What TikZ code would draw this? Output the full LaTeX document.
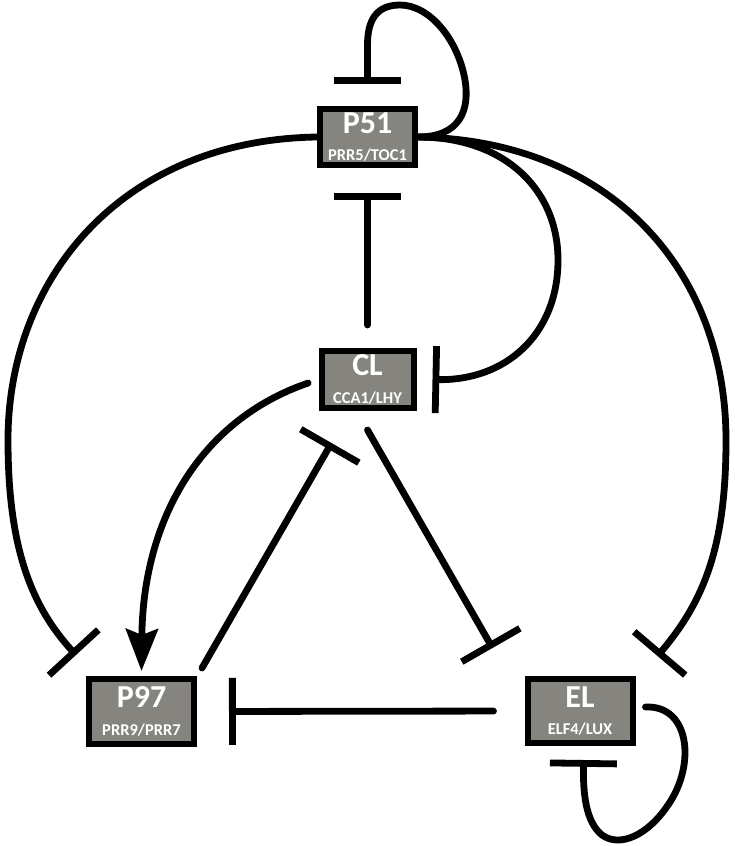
\documentclass[tikz,border=0pt]{standalone}
\usepackage{fontspec}
\setmainfont{Carlito}
\usetikzlibrary{positioning,arrows.meta}
\definecolor{boxgray}{RGB}{133,132,127}
\newcommand{\gene}[2]{{\fontsize{32}{32}\selectfont #1}\\[11pt]#2}

\begin{document}
\begin{tikzpicture}[x=1pt,y=-1pt,line width=6.8pt,line cap=round,on grid,
    gene/.style={draw,line width=6pt,line cap=butt,fill=boxgray,text=white,align=center,
      inner sep=0pt,font=\fontsize{16.5}{16.5}\selectfont\bfseries},
    inh/.style={-{Bar[width=67pt]}},
    act/.style={-{Stealth[length=42pt,width=32pt,inset=6pt]}}]
    \useasboundingbox (0,0) rectangle (734,846);

    \node[gene,minimum width=95pt,minimum height=56pt] (P51) at (367.5,137) {\gene{P51}{PRR5/TOC1}};
    \node[gene,minimum width=92pt,minimum height=57pt] (CL) [below=242.5pt of P51] {\gene{CL}{CCA1/LHY}};
    \node[gene,minimum width=105pt,minimum height=65pt] (P97) [below left=332pt and 226pt of CL] {\gene{P97}{PRR9/PRR7}};
    \node[gene,minimum width=105pt,minimum height=64pt] (EL) [below right=331.5pt and 212.5pt of CL] {\gene{EL}{ELF4/LUX}};

    % P51 on itself
    \draw[inh] (P51.east) .. controls (460,137) and (470,110) .. (465,80)
        .. controls (458,40) and (430,5) .. (400,5)
        .. controls (375,5) and (367.5,22) .. (367.5,45) -- ([yshift=22pt]P51.north);
    % CL -| P51
    \draw[inh,shorten <=23pt,shorten >=25pt] (CL.north) -- (P51.south);
    % P51 -| CL
    \draw[inh] (P51.east) .. controls (505,137) and (558,190) .. (558,260)
        .. controls (558,335) and (505,381) .. ([xshift=16pt]CL.east);
    % P51 -| EL
    \draw[inh] (P51.east) .. controls (610,140) and (726,270) .. (726,440)
        .. controls (726,545) and (705,600) .. ([shift={(22,-20)}]EL.north east);
    % P51 -| P97
    \draw[inh] (P51.west) .. controls (120,140) and (8,280) .. (8,440)
        .. controls (8,545) and (30,605) .. ([shift={(-10,-21)}]P97.north west);
    % CL -> P97
    \draw[act,shorten <=11pt] (CL.west) .. controls (200,420) and (143,520) .. ([yshift=5pt]P97.north);
    % P97 -| CL
    \draw[inh] ([shift={(5,-8)}]P97.north east) -- ([shift={(-36,32)}]CL.south);
    % CL -| EL
    \draw[inh] ([yshift=-19pt]CL.south) -- ([shift={(-32,-28)}]EL.north west);
    % EL -| P97
    \draw[inh,shorten <=31pt,shorten >=32pt] (EL.west) -- (P97.east);
    % EL on itself
    \draw[inh] ([shift={(10,-4)}]EL.east) .. controls (690,705) and (696,765) .. (668,805)
        .. controls (648,835) and (620,848) .. (602,835)
        .. controls (586,822) and (583,795) .. ([shift={(3.5,14)}]EL.south);
\end{tikzpicture}
\end{document}
